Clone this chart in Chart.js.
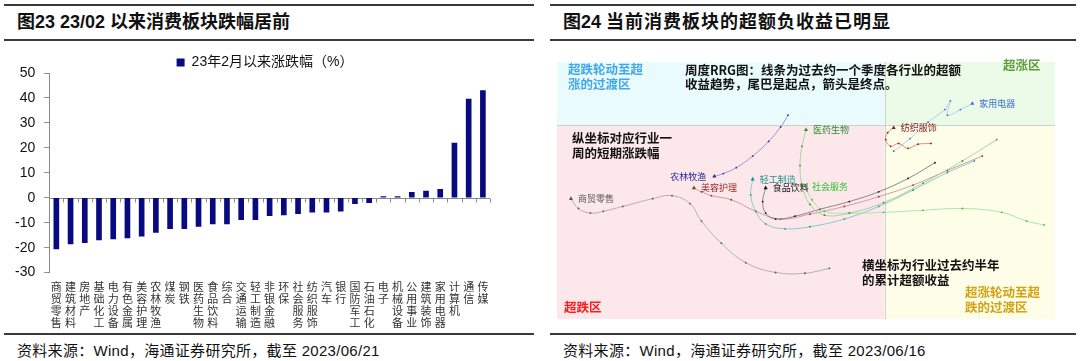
<!DOCTYPE html>
<html><head><meta charset="utf-8">
<script src="https://cdn.jsdelivr.net/npm/chart.js@4.4.0/dist/chart.umd.min.js"></script>
<style>
html,body{margin:0;padding:0;background:#fff;}
body{width:1080px;height:361px;position:relative;overflow:hidden;font-family:"Liberation Sans","Noto Sans CJK SC",sans-serif;color:#111;}
.rule{position:absolute;background:#3a3a3a;}
.title{position:absolute;font-size:18px;font-weight:bold;line-height:20px;white-space:nowrap;color:#111;}
.foot{position:absolute;font-size:15px;line-height:18px;white-space:nowrap;color:#111;letter-spacing:0.3px;}
.note{position:absolute;font-size:12.5px;font-weight:bold;line-height:15px;white-space:nowrap;font-family:"Noto Sans CJK SC",sans-serif;z-index:2;}
canvas{position:absolute;}
</style></head><body>
<div class="rule" style="left:4px;top:4px;width:530px;height:2px"></div>
<div class="rule" style="left:4px;top:39px;width:530px;height:2px"></div>
<div class="rule" style="left:4px;top:333px;width:530px;height:2px"></div>
<div class="rule" style="left:550px;top:4px;width:526px;height:2px"></div>
<div class="rule" style="left:550px;top:39px;width:526px;height:2px"></div>
<div class="rule" style="left:550px;top:333px;width:526px;height:2px"></div>
<div class="title" style="left:17px;top:12px">图23 23/02 以来消费板块跌幅居前</div>
<div class="title" style="left:563px;top:12px">图24 <span style="letter-spacing:1px">当前消费板块的超额负收益已明显</span></div>
<div class="foot" style="left:17px;top:342px">资料来源：Wind，海通证券研究所，截至 2023/06/21</div>
<div class="foot" style="left:563px;top:342px">资料来源：Wind，海通证券研究所，截至 2023/06/16</div>

<canvas id="bar" width="540" height="300" style="left:0;top:44px"></canvas>
<canvas id="rrg" width="506" height="265" style="left:553px;top:58px"></canvas>

<div class="note" style="left:568px;top:61px;color:#41a8ee">超跌轮动至超<br>涨的过渡区</div>
<div class="note" style="left:685px;top:63px;color:#111;line-height:14px">周度RRG图：线条为过去约一个季度各行业的超额<br>收益趋势，尾巴是起点，箭头是终点。</div>
<div class="note" style="left:1003px;top:57px;color:#5d9e3c">超涨区</div>
<div class="note" style="left:572px;top:130px;color:#111">纵坐标对应行业一<br>周的短期涨跌幅</div>
<div class="note" style="left:862px;top:257px;color:#111">横坐标为行业过去约半年<br>的累计超额收益</div>
<div class="note" style="left:965px;top:284px;color:#d2a313">超涨轮动至超<br>跌的过渡区</div>
<div class="note" style="left:564px;top:299px;color:#ff1a1a">超跌区</div>

<script>
// ---------- Left chart data ----------
const categories = ['商贸零售','建筑材料','房地产','基础化工','电力设备','有色金属','美容护理','农林牧渔','煤炭','钢铁','医药生物','食品饮料','综合','交通运输','轻工制造','非银金融','环保','社会服务','纺织服饰','汽车','银行','国防军工','石油石化','电子','机械设备','公用事业','建筑装饰','家用电器','计算机','通信','传媒'];
const changeSince2302 = [-20.5,-18.5,-18.0,-16.9,-16.5,-16.1,-15.4,-13.9,-12.4,-12.4,-11.5,-10.5,-10.5,-8.8,-8.8,-7.2,-6.9,-6.4,-5.8,-5.8,-5.4,-2.4,-2.0,0.5,0.5,2.2,2.7,3.4,21.9,39.5,43.0];
const seriesName = '23年2月以来涨跌幅（%）';
const yTicks = [-30,-20,-10,0,10,20,30,40,50];

// ---------- Right chart (RRG) data: tail -> arrow ----------
const rrgNames = ['家用电器','纺织服饰','农林牧渔','医药生物','社会服务','轻工制造','食品饮料','美容护理','商贸零售'];
const jiadianX = [0.18,0.51,0.87,1.21,1.32,1.26,1.52,1.76];
const jiadianY = [-1.02,-0.53,0.11,0.60,0.94,0.38,0.60,0.83];
const fangzhiX = [0.93,0.67,0.47,0.28,0.12,0.02,0.06,0.18];
const fangzhiY = [-0.72,-0.75,-0.91,-0.72,-0.83,-0.57,-0.30,-0.11];
const nonglinX = [-1.94,-2.09,-2.33,-2.65,-2.98,-3.24,-3.42];
const nonglinY = [0.38,-0.08,-0.64,-1.21,-1.66,-1.89,-2.00];
const yiyaoX = [2.25,1.56,0.77,-0.02,-0.71,-1.21,-1.50,-1.66,-1.70,-1.66,-1.58];
const yiyaoY = [-0.57,-1.40,-2.26,-3.02,-3.43,-3.51,-3.09,-2.34,-1.58,-0.83,-0.19];
const shefuX = [3.20,2.85,2.35,1.56,0.77,-0.02,-0.71,-1.21,-1.46,-1.60];
const shefuY = [-3.89,-3.74,-3.40,-3.25,-3.32,-3.40,-3.43,-3.36,-2.91,-2.38];
const qinggongX = [1.80,1.26,0.57,-0.12,-0.81,-1.50,-2.00,-2.39,-2.59,-2.69,-2.65];
const qinggongY = [-1.40,-1.85,-2.53,-3.17,-3.66,-3.96,-4.04,-3.85,-3.36,-2.72,-2.11];
const shipinX = [1.01,0.47,-0.12,-0.71,-1.30,-1.80,-2.19,-2.39,-2.45,-2.39];
const shipinY = [-1.47,-2.08,-2.60,-2.98,-3.28,-3.55,-3.66,-3.43,-2.98,-2.45];
const meirongX = [1.96,1.26,0.57,-0.12,-0.81,-1.50,-2.09,-2.59,-3.08,-3.48,-3.68,-3.83];
const meirongY = [-1.21,-1.77,-2.34,-2.79,-3.17,-3.47,-3.66,-3.36,-2.91,-2.75,-2.60,-2.45];
const shangmaoX = [-1.11,-1.60,-2.19,-2.79,-3.28,-3.68,-3.91,-4.27,-4.66,-5.26,-5.65,-5.91,-6.15,-6.30];
const shangmaoY = [-5.58,-5.77,-5.74,-5.36,-4.60,-3.74,-3.06,-2.75,-2.87,-3.17,-3.36,-3.43,-3.25,-2.87];

Chart.defaults.font.family = '"Liberation Sans","Noto Sans CJK SC",sans-serif';
Chart.defaults.animation = false;

// zero line with category tick marks
const zeroAxis = {
  id: 'zeroAxis',
  beforeDatasetsDraw(chart) {
    const {ctx, chartArea, scales: {x, y}} = chart;
    const y0 = Math.round(y.getPixelForValue(0)) + 0.5;
    ctx.save();
    ctx.strokeStyle = '#8a8a8a';
    ctx.lineWidth = 1;
    ctx.beginPath();
    ctx.moveTo(chartArea.left, y0);
    ctx.lineTo(chartArea.right, y0);
    const n = x.getLabels().length;
    for (let i = 0; i <= n; i++) {
      const px = Math.round(x.getPixelForValue(i - 0.5)) + 0.5;
      ctx.moveTo(px, y0);
      ctx.lineTo(px, y0 + 4);
    }
    ctx.stroke();
    ctx.restore();
  }
};

new Chart(document.getElementById('bar'), {
  type: 'bar',
  data: {
    labels: categories.map(s => s.split('')),
    datasets: [{
      label: seriesName,
      data: changeSince2302,
      backgroundColor: '#0a0a80',
      borderWidth: 0,
      barThickness: 5
    }]
  },
  options: {
    responsive: false,
    layout: { padding: { left: 6, right: 16, top: 10.5, bottom: 7 } },
    plugins: {
      legend: {
        display: true,
        maxHeight: 18.5,
        labels: { boxWidth: 8, boxHeight: 8, padding: 1, color: '#111', font: { size: 14 } }
      },
      tooltip: { enabled: false }
    },
    scales: {
      x: {
        grid: { display: false, drawTicks: false },
        border: { display: false },
        ticks: { autoSkip: false, maxRotation: 0, minRotation: 0, padding: 8, color: '#333',
                 font: { size: 11, family: '"Noto Sans CJK SC",sans-serif', lineHeight: 1.1 } }
      },
      y: {
        min: yTicks[0], max: yTicks[yTicks.length - 1],
        afterBuildTicks: axis => { axis.ticks = yTicks.map(v => ({ value: v })); },
        grid: { drawOnChartArea: false, drawTicks: true, tickLength: 5, color: '#8a8a8a' },
        border: { display: true, color: '#8a8a8a' },
        ticks: { padding: 9, color: '#111', font: { size: 14 } }
      },
      yRightSpace: {
        position: 'right',
        display: true,
        grid: { display: false, drawTicks: false },
        border: { display: false },
        ticks: { display: false },
        afterFit: s => { s.width = 34; }
      }
    }
  },
  plugins: [zeroAxis]
});

// ---------- RRG chart ----------
const rrgSeries = [
  [jiadianX, jiadianY, '#b0c6ec', '#3b6fd6', 'right'],
  [fangzhiX, fangzhiY, '#c98484', '#8b1a1a', 'right'],
  [nonglinX, nonglinY, '#8c8cd0', '#2a2a99', 'left'],
  [yiyaoX, yiyaoY, '#9fce9f', '#2e8b2e', 'right'],
  [shefuX, shefuY, '#a0e4a0', '#2fc42f', 'right'],
  [qinggongX, qinggongY, '#80c4c4', '#1f8f8f', 'right'],
  [shipinX, shipinY, '#7a7a7a', '#111111', 'right'],
  [meirongX, meirongY, '#cc9494', '#a02828', 'right'],
  [shangmaoX, shangmaoY, '#aaaaaa', '#555555', 'right']
];

const quadrants = {
  id: 'quadrants',
  beforeDraw(chart) {
    const {ctx, chartArea: a, scales: {x, y}} = chart;
    const cx = x.getPixelForValue(0), cy = y.getPixelForValue(0);
    ctx.save();
    ctx.fillStyle = '#e9fbfc'; ctx.fillRect(a.left, a.top, cx - a.left, cy - a.top);
    ctx.fillStyle = '#ebfbe7'; ctx.fillRect(cx, a.top, a.right - cx, cy - a.top);
    ctx.fillStyle = '#fce8eb'; ctx.fillRect(a.left, cy, cx - a.left, a.bottom - cy);
    ctx.fillStyle = '#fdfde8'; ctx.fillRect(cx, cy, a.right - cx, a.bottom - cy);
    ctx.strokeStyle = '#cfcfcf'; ctx.lineWidth = 1;
    ctx.beginPath();
    ctx.moveTo(Math.round(cx) + 0.5, a.top); ctx.lineTo(Math.round(cx) + 0.5, a.bottom);
    ctx.moveTo(a.left, Math.round(cy) + 0.5); ctx.lineTo(a.right, Math.round(cy) + 0.5);
    ctx.stroke();
    ctx.restore();
  }
};

const endLabels = {
  id: 'endLabels',
  afterDatasetsDraw(chart) {
    const ctx = chart.ctx;
    ctx.save();
    ctx.font = '9px "Noto Sans CJK SC", sans-serif';
    ctx.textBaseline = 'middle';
    chart.data.datasets.forEach((ds, i) => {
      const meta = chart.getDatasetMeta(i);
      const pt = meta.data[meta.data.length - 1];
      const side = rrgSeries[i][4];
      ctx.fillStyle = ds.pointBorderColor;
      if (side === 'left') { ctx.textAlign = 'right'; ctx.fillText(ds.label, pt.x - 8, pt.y); }
      else { ctx.textAlign = 'left'; ctx.fillText(ds.label, pt.x + 7, pt.y); }
    });
    ctx.restore();
  }
};

new Chart(document.getElementById('rrg'), {
  type: 'scatter',
  data: {
    datasets: rrgSeries.map((s, i) => ({
      label: rrgNames[i],
      data: s[0].map((v, j) => ({ x: v, y: s[1][j] })),
      showLine: true,
      tension: 0.4,
      borderWidth: 0.9,
      borderColor: s[2],
      pointBackgroundColor: s[3],
      pointBorderColor: s[3],
      pointBorderWidth: 0,
      pointRadius: s[0].map((v, j) => j === s[0].length - 1 ? 2.4 : 0.9),
      pointStyle: s[0].map((v, j) => j === s[0].length - 1 ? 'triangle' : 'circle')
    }))
  },
  options: {
    responsive: false,
    layout: { padding: 0 },
    plugins: { legend: { display: false }, tooltip: { enabled: false } },
    scales: {
      x: { type: 'linear', min: -6.58, max: 3.42, display: false },
      y: { type: 'linear', min: -7.55, max: 2.45, display: false }
    }
  },
  plugins: [quadrants, endLabels]
});
</script>
</body></html>
